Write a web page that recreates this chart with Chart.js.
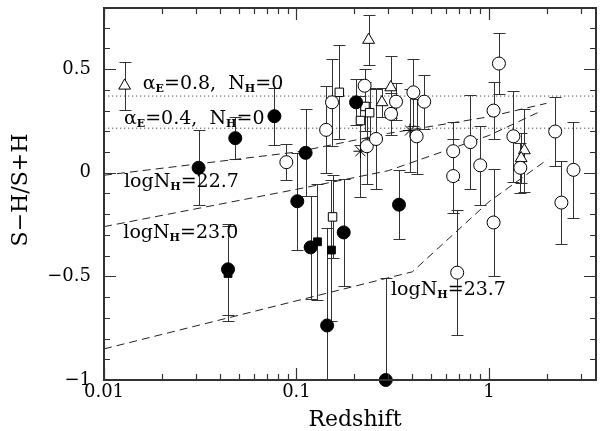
<!DOCTYPE html>
<html lang="en">
<head>
<meta charset="UTF-8">
<title>S-H/S+H vs Redshift</title>
<script src="https://cdn.jsdelivr.net/npm/chart.js"></script>
<style>
  html, body { margin: 0; padding: 0; background: #fff; }
</style>
</head>
<body>
<canvas id="hrChart" width="604" height="431"></canvas>
<script>
// ---- data (redshift, hardness ratio, error) ----
const filledCircX   = [0.031, 0.0481, 0.0768, 0.0441, 0.1116, 0.101, 0.1185, 0.1443, 0.176, 0.204, 0.341, 0.291];
const filledCircY   = [0.024, 0.167, 0.273, -0.466, 0.096, -0.1375, -0.36, -0.737, -0.288, 0.34, -0.154, -1.0];
const filledCircErr = [0.18, 0.10, 0.137, 0.22, 0.21, 0.235, 0.25, 0.47, 0.26, 0.11, 0.166, 0.494];

const openCircX   = [0.0886, 0.1426, 0.153, 0.226, 0.232, 0.259, 0.329, 0.31, 0.405, 0.421, 0.461, 0.652,
                     0.652, 0.684, 0.801, 0.901, 1.057, 1.127, 1.057, 1.34, 1.456, 2.21, 2.38, 2.75];
const openCircY   = [0.051, 0.207, 0.34, 0.42, 0.128, 0.163, 0.343, 0.284, 0.388, 0.176, 0.343, 0.104,
                     -0.016, -0.482, 0.148, 0.036, 0.30, 0.527, -0.24, 0.176, 0.024, 0.199, -0.144, 0.014];
const openCircErr = [0.087, 0.21, 0.21, 0.08, 0.18, 0.24, 0.09, 0.10, 0.16, 0.18, 0.13, 0.14,
                     0.18, 0.30, 0.228, 0.19, 0.137, 0.145, 0.26, 0.22, 0.12, 0.168, 0.20, 0.232];

const triX   = [0.0128, 0.237, 0.278, 0.309, 1.528, 1.47];
const triY   = [0.42, 0.641, 0.34, 0.412, 0.108, 0.07];
const triErr = [0.115, 0.12, 0.07, 0.15, 0.20, 0.12];

const openSqX   = [0.154, 0.167, 0.215, 0.227, 0.24];
const openSqY   = [-0.213, 0.388, 0.252, 0.32, 0.29];
const openSqErr = [0.20, 0.227, 0.12, 0.12, 0.12];

const filledSqX   = [0.0441, 0.1286, 0.152];
const filledSqY   = [-0.486, -0.333, -0.373];
const filledSqErr = [0.23, 0.28, 0.34];

const starX   = [0.215, 0.389];
const starY   = [0.104, 0.204];
const starErr = [0.22, 0.20];

// model curves
const nh227X = [0.01, 0.1, 0.3, 1, 1.99];
const nh227Y = [-0.012, 0.1, 0.19, 0.27, 0.335];
const nh230X = [0.01, 0.1, 0.3, 1, 1.89];
const nh230Y = [-0.26, -0.08, 0.01, 0.18, 0.30];
const nh237X = [0.01, 0.4, 1, 2.02];
const nh237Y = [-0.85, -0.478, -0.14, 0.065];

// unabsorbed power laws (horizontal)
const alpha08 = 0.37;
const alpha04 = 0.215;

const xMin = 0.01, xMax = 3.6;
const yMin = -1, yMax = 0.795;
const xMajor = [0.01, 0.1, 1];
const xTickLabels = ['0.01', '0.1', '1'];
const yMajor = [-1, -0.5, 0, 0.5];
const yTickLabels = ['\u22121', '\u22120.5', '0', '0.5'];

const FONT = '"DejaVu Serif", "Liberation Serif", serif';

function pts(xs, ys, errs) {
  return xs.map((x, i) => ({ x: x, y: ys[i], err: errs ? errs[i] : 0 }));
}

function pointSet(xs, ys, errs, style, radius, fill) {
  return {
    data: pts(xs, ys, errs),
    errorBars: true,
    pointStyle: style,
    pointRadius: radius,
    backgroundColor: fill,
    borderColor: '#000',
    borderWidth: 1,
    showLine: false,
    clip: false
  };
}

function curve(xs, ys, dash, color) {
  return {
    data: pts(xs, ys),
    showLine: true,
    pointRadius: 0,
    borderColor: color,
    borderWidth: 1,
    borderDash: dash,
    fill: false
  };
}

// minor tick values for the frame
const xMinor = [];
[0.01, 0.1, 1].forEach(d => { for (let m = 2; m <= 9; m++) if (m * d <= xMax) xMinor.push(m * d); });
const yMinor = [];
for (let k = -9; k <= 7; k++) if (k % 5 !== 0) yMinor.push(k / 10);

const errorBars = {
  id: 'errorBars',
  beforeDatasetsDraw(chart) {
    const { ctx, chartArea: a, scales: { x, y } } = chart;
    ctx.save();
    ctx.beginPath();
    ctx.rect(a.left, a.top, a.right - a.left, a.bottom - a.top);
    ctx.clip();
    ctx.strokeStyle = '#333';
    ctx.lineWidth = 1;
    chart.data.datasets.forEach(ds => {
      if (!ds.errorBars) return;
      ds.data.forEach(p => {
        const px = Math.round(x.getPixelForValue(p.x)) + 0.5;
        const top = Math.round(y.getPixelForValue(p.y + p.err)) + 0.5;
        const bot = Math.round(y.getPixelForValue(p.y - p.err)) + 0.5;
        ctx.beginPath();
        ctx.moveTo(px, top); ctx.lineTo(px, bot);
        ctx.moveTo(px - 6, top); ctx.lineTo(px + 6, top);
        ctx.moveTo(px - 6, bot); ctx.lineTo(px + 6, bot);
        ctx.stroke();
      });
    });
    ctx.restore();
  }
};

// text labels inside the plot: [x, y, parts]; parts flagged 1 are subscripts
const notes = [
  [0.0159, 0.402, [['\u03b1'], ['E', 1], ['=0.8,  N'], ['H', 1], ['=0']]],
  [0.0127, 0.236, [['\u03b1'], ['E', 1], ['=0.4,  N'], ['H', 1], ['=0']]],
  [0.0127, -0.069, [['logN'], ['H', 1], ['=22.7']]],
  [0.0126, -0.317, [['logN'], ['H', 1], ['=23.0']]],
  [0.31, -0.589, [['logN'], ['H', 1], ['=23.7']]]
];

const labels = {
  id: 'labels',
  afterDatasetsDraw(chart) {
    const { ctx, scales: { x, y } } = chart;
    ctx.save();
    ctx.fillStyle = '#000';
    ctx.textBaseline = 'alphabetic';
    ctx.textAlign = 'left';
    notes.forEach(([vx, vy, parts]) => {
      let px = x.getPixelForValue(vx);
      const py = y.getPixelForValue(vy);
      parts.forEach(([t, sub]) => {
        ctx.font = sub ? 'bold 11px ' + FONT : '19px ' + FONT;
        ctx.fillText(t, px, py + (sub ? 3 : 0));
        px += ctx.measureText(t).width;
      });
    });

    // axis titles
    ctx.font = '22px ' + FONT;
    ctx.textAlign = 'center';
    ctx.fillText('Redshift', 355, 426);
    ctx.translate(27, 190);
    ctx.rotate(-Math.PI / 2);
    ctx.fillText('S\u2212H/S+H', 0, 0);
    ctx.restore();
  }
};

const frame = {
  id: 'frame',
  afterDraw(chart) {
    const { ctx, chartArea: a, scales: { x, y } } = chart;
    ctx.save();
    ctx.strokeStyle = '#333';
    ctx.lineWidth = 1.2;
    ctx.beginPath();
    const tickX = (v, len) => {
      const px = Math.round(x.getPixelForValue(v)) + 0.5;
      ctx.moveTo(px, a.bottom); ctx.lineTo(px, a.bottom - len);
      ctx.moveTo(px, a.top); ctx.lineTo(px, a.top + len);
    };
    const tickY = (v, len) => {
      const py = Math.round(y.getPixelForValue(v)) + 0.5;
      ctx.moveTo(a.left, py); ctx.lineTo(a.left + len, py);
      ctx.moveTo(a.right, py); ctx.lineTo(a.right - len, py);
    };
    xMajor.forEach(v => tickX(v, 12));
    xMinor.forEach(v => tickX(v, 6));
    yMajor.forEach(v => tickY(v, 12));
    yMinor.forEach(v => tickY(v, 6));
    ctx.stroke();
    ctx.lineWidth = 2;
    ctx.strokeRect(a.left, a.top, a.right - a.left, a.bottom - a.top);
    ctx.restore();
  }
};

new Chart(document.getElementById('hrChart'), {
  type: 'scatter',
  data: {
    datasets: [
      pointSet(filledCircX, filledCircY, filledCircErr, 'circle', 6.5, '#000'),
      pointSet(filledSqX, filledSqY, filledSqErr, 'rect', 5.5, '#000'),
      pointSet(openCircX, openCircY, openCircErr, 'circle', 6.5, '#fff'),
      pointSet(triX, triY, triErr, 'triangle', 6.8, '#fff'),
      pointSet(openSqX, openSqY, openSqErr, 'rect', 6, '#fff'),
      pointSet(starX, starY, starErr, 'star', 7, '#000'),
      curve(nh227X, nh227Y, [8, 5], '#222'),
      curve(nh230X, nh230Y, [8, 5], '#222'),
      curve(nh237X, nh237Y, [8, 5], '#222'),
      curve([xMin, xMax], [alpha08, alpha08], [1.3, 2.7], '#555'),
      curve([xMin, xMax], [alpha04, alpha04], [1.3, 2.7], '#555')
    ]
  },
  options: {
    responsive: false,
    animation: false,
    events: [],
    layout: { padding: { left: 0, right: 5, top: 5, bottom: 0 } },
    plugins: { legend: { display: false }, tooltip: { enabled: false } },
    scales: {
      x: {
        type: 'logarithmic',
        min: xMin,
        max: xMax,
        grid: { display: false, drawTicks: false },
        border: { display: false },
        afterBuildTicks: s => { s.ticks = xMajor.map(v => ({ value: v })); },
        afterFit: s => { s.height = 51; s.paddingLeft = 0; s.paddingRight = 0; },
        ticks: {
          autoSkip: false,
          maxRotation: 0,
          padding: 2,
          color: '#000',
          font: { family: FONT, size: 18 },
          callback: v => xTickLabels[xMajor.indexOf(v)]
        }
      },
      y: {
        min: yMin,
        max: yMax,
        grid: { display: false, drawTicks: false },
        border: { display: false },
        afterBuildTicks: s => { s.ticks = yMajor.map(v => ({ value: v })); },
        afterFit: s => { s.width = 104; s.paddingTop = 0; s.paddingBottom = 0; },
        ticks: {
          padding: 13,
          color: '#000',
          font: { family: FONT, size: 18 },
          callback: v => yTickLabels[yMajor.indexOf(v)]
        }
      }
    }
  },
  plugins: [errorBars, labels, frame]
});
</script>
</body>
</html>
